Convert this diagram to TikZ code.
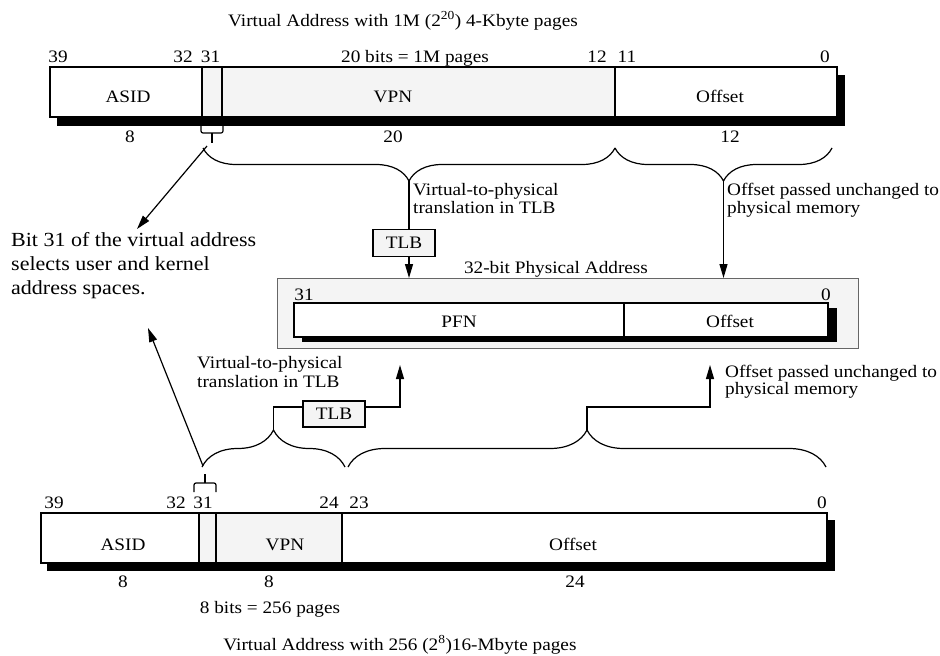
\documentclass[tikz,border=0pt]{standalone}
\usepackage{fontspec}
\setmainfont[FakeStretch=1.1]{Liberation Serif}
\usetikzlibrary{arrows.meta,decorations.pathreplacing,calc}
\definecolor{cellgray}{gray}{0.955}
\definecolor{boxline}{gray}{0.4}
\newcommand\lblfont{\fontsize{17.5}{18}\selectfont}
\newcommand\notefont{\fontsize{20}{22}\selectfont}
\begin{document}
\begin{tikzpicture}[x=1pt,y=-1pt,
  txt/.style={font=\lblfont, inner sep=0pt, anchor=base},
  txtl/.style={txt, anchor=base west},
  notetxt/.style={font=\notefont, inner sep=0pt, anchor=base west},
  barline/.style={draw=black, line width=1.2pt},
  shade/.style={fill=black},
  cellfill/.style={fill=cellgray},
  conn/.style={line width=1.2pt},
  arr/.style={conn, -{Triangle[length=14pt,width=8pt]}},
  bracedown/.style={conn, decorate, decoration={brace, mirror, amplitude=#1}},
  braceup/.style={conn, decorate, decoration={brace, amplitude=#1}},
  tlbbox/.style={draw, line width=1.2pt, fill=cellgray, font=\lblfont, minimum width=62pt, minimum height=27pt, inner sep=0pt},
]
\useasboundingbox (0,0) rectangle (940,656);

% ---------- top virtual address (4-Kbyte pages) ----------
\node[txt] (t1) at (403,26) {Virtual Address with 1M (2\textsuperscript{20}) 4-Kbyte pages};
\fill[shade] (57,75) rectangle (845,126);
\fill[white] (50,67) rectangle (837,117);
\fill[cellfill] (202,67) rectangle (615,117);
\draw[barline] (50,67) rectangle (837,117);
\draw[barline] (202,67) -- (202,117) (222,67) -- (222,117) (615,67) -- (615,117);
\node[txt] (ta39) at (58,62) {39};
\node[txt] (ta32) at (183,62) {32};
\node[txt] (ta31) at (210.5,62) {31};
\node[txt] (tabits) at (415,62) {20 bits = 1M pages};
\node[txt] (ta12) at (597,62) {12};
\node[txt] (ta11) at (627,62) {11};
\node[txt] (ta0) at (825,62) {0};
\node[txt] (tasid) at (128,102) {ASID};
\node[txt] (tvpn) at (393,102) {VPN};
\node[txt] (toff) at (720,102) {Offset};
\node[txt] (tw8) at (130,142) {8};
\node[txt] (tw20) at (393,142) {20};
\node[txt] (tw12) at (730,142) {12};

% small brace under bit 31
\draw[conn, rounded corners=2pt] (201,126) -- (201,133) -- (223,133) -- (223,126);
\draw[conn] (212,133) -- (212,143);
% big braces
\draw[bracedown=33pt] (203,148) -- (615,148);
\draw[bracedown=33pt] (615,148) -- (832,148);
\coordinate (b1tip) at (409,181);
\coordinate (b2tip) at (723.5,181);

% note about bit 31
\node[notetxt] (note1) at (11,246) {Bit 31 of the virtual address};
\node[notetxt] (note2) at (11,270) {selects user and kernel};
\node[notetxt] (note3) at (11,294) {address spaces.};
\coordinate (bitA) at (207,146);
\coordinate (noteA) at (137,229);
\draw[arr] (bitA) -- (noteA);

% translation labels (upper)
\node[txtl] (vt1) at (413,195) {Virtual-to-physical};
\node[txtl] (vt2) at (413,213) {translation in TLB};
\node[txtl] (op1) at (727,195) {Offset passed unchanged to};
\node[txtl] (op2) at (727,213) {physical memory};
\node[tlbbox] (tlbA) at (404,243) {TLB};

% ---------- physical address ----------
\fill[cellfill] (277,278) rectangle (858,348);
\draw[boxline, line width=1pt] (277,278) rectangle (858,348);
\coordinate (physTopA) at (409,278);
\coordinate (physTopB) at (723.5,278);
\node[txt] (ptitle) at (556,273) {32-bit Physical Address};
\fill[shade] (302,308) rectangle (837,342);
\fill[white] (294,303) rectangle (828,337);
\draw[barline] (294,303) rectangle (828,337);
\draw[barline] (624,303) -- (624,337);
\node[txt] (p31) at (304,300) {31};
\node[txt] (p0) at (826,300) {0};
\node[txt] (pfn) at (459,327) {PFN};
\node[txt] (poff) at (730,327) {Offset};

\draw[conn] (b1tip) -- (b1tip |- tlbA.north);
\draw[arr] (b1tip |- tlbA.south) -- (physTopA);
\draw[arr] (b2tip) -- (physTopB);

% ---------- lower virtual address (16-Mbyte pages) ----------
\node[txtl] (lv1) at (197,368) {Virtual-to-physical};
\node[txtl] (lv2) at (197,387) {translation in TLB};
\node[txtl] (lo1) at (725,377) {Offset passed unchanged to};
\node[txtl] (lo2) at (725,394) {physical memory};
\node[tlbbox, minimum height=26pt] (tlbB) at (334,414) {TLB};

\draw[braceup=37pt] (202,467) -- (345,467);
\draw[braceup=37pt] (348,467) -- (826,467);
\coordinate (b3tip) at (273.5,430);
\coordinate (b4tip) at (587,430);
\coordinate (tlbRow) at (0,407);
\coordinate (physBotA) at (400,365);
\coordinate (physBotB) at (710,365);
\draw[conn] (b3tip) |- (tlbB.west |- tlbRow);
\draw[arr] (tlbB.east |- tlbRow) -| (physBotA);
\draw[arr] (b4tip) |- (physBotB |- tlbRow) -- (physBotB);

% small brace above bit 31
\draw[conn, rounded corners=2pt] (194,492) -- (194,483) -- (216,483) -- (216,492);
\draw[conn] (205,483) -- (205,474);
\coordinate (bitB) at (203,466);
\coordinate (noteB) at (148,328);
\draw[arr] (bitB) -- (noteB);

\fill[shade] (47,520) rectangle (835,571);
\fill[white] (41,513) rectangle (827,563);
\fill[cellfill] (199,513) rectangle (342,563);
\draw[barline] (41,513) rectangle (827,563);
\draw[barline] (199,513) -- (199,563) (216,513) -- (216,563) (342,513) -- (342,563);
\node[txt] (lb39) at (54,508) {39};
\node[txt] (lb32) at (176,508) {32};
\node[txt] (lb31) at (203,508) {31};
\node[txt] (lb24) at (329,508) {24};
\node[txt] (lb23) at (359,508) {23};
\node[txt] (lb0) at (822,508) {0};
\node[txt] (lasid) at (123,550) {ASID};
\node[txt] (lvpn) at (285,550) {VPN};
\node[txt] (loff) at (573,550) {Offset};
\node[txt] (lw8a) at (123,587) {8};
\node[txt] (lw8b) at (269,587) {8};
\node[txt] (lw24) at (575,587) {24};
\node[txt] (lbits) at (270,613) {8 bits = 256 pages};
\node[txt] (t2) at (400,650) {Virtual Address with 256 (2\textsuperscript{8})16-Mbyte pages};
\end{tikzpicture}
\end{document}
